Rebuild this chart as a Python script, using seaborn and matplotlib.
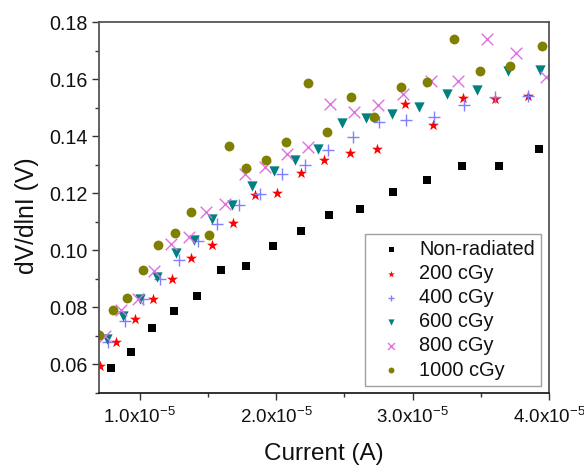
import matplotlib
matplotlib.use("Agg")
import matplotlib.pyplot as plt
import matplotlib.ticker as mticker
import seaborn as sns
import pandas as pd

# ---- data (current in units of 1e-5 A, dV/dlnI in V) ----
series_names = ["Non-radiated", "200 cGy", "400 cGy", "600 cGy", "800 cGy", "1000 cGy"]

x_non = [0.788, 0.932, 1.090, 1.249, 1.417, 1.598, 1.780, 1.978, 2.183, 2.390, 2.617, 2.856, 3.102, 3.363, 3.631, 3.924]
y_non = [0.0586, 0.0643, 0.0727, 0.0787, 0.0841, 0.0931, 0.0945, 0.1015, 0.1066, 0.1125, 0.1144, 0.1205, 0.1248, 0.1296, 0.1296, 0.1354]

x_200 = [0.707, 0.824, 0.961, 1.093, 1.232, 1.375, 1.527, 1.680, 1.841, 2.004, 2.178, 2.353, 2.538, 2.736, 2.946, 3.146, 3.372, 3.602, 3.846]
y_200 = [0.0596, 0.0677, 0.0759, 0.0830, 0.0899, 0.0974, 0.1019, 0.1094, 0.1194, 0.1202, 0.1272, 0.1317, 0.1340, 0.1354, 0.1512, 0.1440, 0.1534, 0.1531, 0.1540]

x_400 = [0.768, 0.892, 1.020, 1.146, 1.285, 1.426, 1.565, 1.724, 1.878, 2.041, 2.207, 2.379, 2.563, 2.756, 2.948, 3.160, 3.380, 3.604, 3.848]
y_400 = [0.0677, 0.0754, 0.0830, 0.0899, 0.0966, 0.1034, 0.1091, 0.1160, 0.1197, 0.1268, 0.1300, 0.1353, 0.1397, 0.1451, 0.1458, 0.1467, 0.1510, 0.1538, 0.1542]

x_600 = [0.761, 0.878, 1.000, 1.126, 1.261, 1.395, 1.529, 1.673, 1.824, 1.980, 2.139, 2.307, 2.483, 2.660, 2.849, 3.046, 3.255, 3.473, 3.699, 3.933]
y_600 = [0.0689, 0.0771, 0.0830, 0.0908, 0.0992, 0.1036, 0.1110, 0.1160, 0.1227, 0.1278, 0.1316, 0.1355, 0.1446, 0.1465, 0.1479, 0.1502, 0.1548, 0.1563, 0.1628, 0.1631]

x_800 = [0.744, 0.861, 0.987, 1.105, 1.227, 1.358, 1.488, 1.627, 1.774, 1.918, 2.075, 2.234, 2.397, 2.568, 2.745, 2.931, 3.132, 3.331, 3.544, 3.756, 3.975]
y_800 = [0.0700, 0.0791, 0.0830, 0.0929, 0.1022, 0.1046, 0.1135, 0.1163, 0.1266, 0.1293, 0.1338, 0.1362, 0.1511, 0.1485, 0.1509, 0.1546, 0.1594, 0.1592, 0.1741, 0.1690, 0.1606]

x_1000 = [0.701, 0.800, 0.907, 1.024, 1.135, 1.256, 1.378, 1.503, 1.653, 1.779, 1.922, 2.074, 2.230, 2.372, 2.546, 2.719, 2.911, 3.102, 3.301, 3.494, 3.716, 3.950]
y_1000 = [0.0702, 0.0791, 0.0832, 0.0931, 0.1018, 0.1062, 0.1135, 0.1052, 0.1367, 0.1289, 0.1318, 0.1379, 0.1585, 0.1415, 0.1537, 0.1467, 0.1573, 0.1591, 0.1740, 0.1629, 0.1645, 0.1716]

x_ticks = [1.0, 2.0, 3.0, 4.0]
y_ticks = [0.06, 0.08, 0.10, 0.12, 0.14, 0.16, 0.18]

xs = [x_non, x_200, x_400, x_600, x_800, x_1000]
ys = [y_non, y_200, y_400, y_600, y_800, y_1000]

# ---- styles ----
colors = ["#000000", "#ff0000", "#8080ff", "#008080", "#e070e0", "#808000"]
markers = ["s", "*", "+", "v", "x", "o"]
sizes = [36, 70, 70, 55, 70, 50]

sns.set_theme(style="white")
plt.rcParams["font.family"] = ["Liberation Sans", "DejaVu Sans"]
plt.rcParams["mathtext.fontset"] = "custom"
plt.rcParams["mathtext.rm"] = "Liberation Sans"
plt.rcParams["mathtext.it"] = "Liberation Sans"
plt.rcParams["mathtext.bf"] = "Liberation Sans"
plt.rcParams["text.color"] = "#111111"
plt.rcParams["axes.labelcolor"] = "#111111"
plt.rcParams["xtick.labelcolor"] = "#111111"
plt.rcParams["ytick.labelcolor"] = "#111111"

fig = plt.figure(figsize=(5.84, 4.69), dpi=100)
ax = fig.add_axes([99 / 584, 1 - 393 / 469, 450 / 584, 371 / 469])

for name, xv, yv, c, m, s in zip(series_names, xs, ys, colors, markers, sizes):
    df = pd.DataFrame({"Current": [v * 1e-5 for v in xv], "dV": yv})
    kw = dict(linewidth=1.0) if m in ("+", "x") else dict(linewidth=0)
    sns.scatterplot(data=df, x="Current", y="dV", ax=ax, color=c, marker=m,
                    s=s, label=name, clip_on=True, **kw)

ax.set_xlim(0.7e-5, 4.0e-5)
ax.set_ylim(0.05, 0.18)
ax.set_xticks([v * 1e-5 for v in x_ticks])
ax.xaxis.set_minor_locator(mticker.MultipleLocator(0.5e-5))
ax.xaxis.set_major_formatter(mticker.FuncFormatter(
    lambda v, p: "%.1fx10$^{-5}$" % (v / 1e-5)))
ax.set_yticks(y_ticks)
ax.yaxis.set_minor_locator(mticker.MultipleLocator(0.01))
ax.yaxis.set_major_formatter(mticker.FormatStrFormatter("%.2f"))

for sp in ax.spines.values():
    sp.set_color("#555555")
    sp.set_linewidth(1.3)
ax.spines["bottom"].set_color("#222222")

ax.tick_params(axis="both", which="major", direction="out", length=5, width=1.0,
               color="#333333", bottom=True, left=True,
               top=False, right=False)
ax.tick_params(axis="x", which="major", labelsize=13.5, pad=5)
ax.tick_params(axis="y", which="major", labelsize=14.2, pad=3)
ax.tick_params(axis="both", which="minor", direction="out", length=3, width=1.0,
               color="#333333", bottom=True, left=True, top=False, right=False)

ax.set_xlabel("Current (A)", fontsize=17.5)
ax.set_ylabel("dV/dlnI (V)", fontsize=17.8)
ax.xaxis.set_label_coords((324 - 99) / 450, -(454 - 393) / 371)
ax.yaxis.set_label_coords(-(99 - 27) / 450, (393 - 216) / 371)
ax.xaxis.label.set_verticalalignment("center")
ax.yaxis.label.set_verticalalignment("center")

leg = ax.legend(loc="lower right", bbox_to_anchor=(0.982, 0.02), fontsize=14.4,
                frameon=True, fancybox=False, edgecolor="#888888",
                markerscale=0.6, handletextpad=0.4, labelspacing=0.26,
                borderpad=0.3, handlelength=2.0, borderaxespad=0.0)
leg.get_frame().set_linewidth(1.0)

fig.savefig("out.png", dpi=100)
